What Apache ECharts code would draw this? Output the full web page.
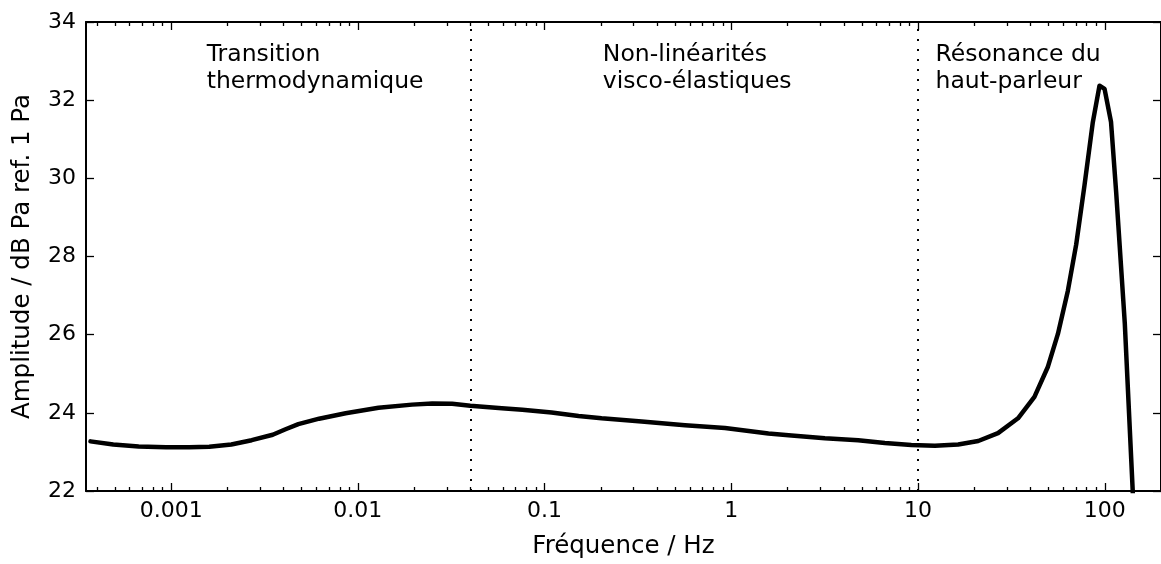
<!DOCTYPE html>
<html>
<head>
<meta charset="utf-8">
<script src="https://cdn.jsdelivr.net/npm/echarts@6/dist/echarts.min.js"></script>
<style>
html,body{margin:0;padding:0;background:#fff;}
#c{width:1161px;height:564px;}
</style>
</head>
<body>
<div id="c"></div>
<script>
// ---- data ----
const freq = [0.00037, 0.00049, 0.00067, 0.00094, 0.00125, 0.0016, 0.0021, 0.0027, 0.0035, 0.0041,
  0.0048, 0.0062, 0.0086, 0.0129, 0.0195, 0.025, 0.032, 0.040, 0.059, 0.076,
  0.109, 0.152, 0.202, 0.331, 0.565, 0.925, 1.18, 1.58, 2.1, 3.17,
  4.78, 6.64, 9.2, 12.3, 16.4, 21, 26.8, 34.3, 42, 49.6,
  56.1, 63.4, 70.3, 77.9, 86.3, 93.7, 99.7, 108, 115, 128, 141, 145];
const amplitude = [23.27, 23.19, 23.14, 23.12, 23.12, 23.13, 23.19, 23.30, 23.44, 23.58,
  23.71, 23.85, 23.99, 24.13, 24.21, 24.24, 24.23, 24.18, 24.12, 24.08,
  24.01, 23.92, 23.86, 23.78, 23.68, 23.61, 23.55, 23.47, 23.42, 23.35,
  23.30, 23.23, 23.18, 23.16, 23.19, 23.28, 23.48, 23.86, 24.41, 25.18,
  26.02, 27.12, 28.31, 29.83, 31.44, 32.37, 32.29, 31.44, 29.66, 26.28, 22.04, 20.5];
const regionBounds = [0.04, 10];
const regionLabels = ['Transition\nthermodynamique', 'Non-linéarités\nvisco-élastiques', 'Résonance du\nhaut-parleur'];
const regionLabelX = [0.00155, 0.205, 12.4];
const regionLabelY = 33.5;
const xMajorTicks = [0.001, 0.01, 0.1, 1, 10, 100];
const xTickLabels = ['0.001', '0.01', '0.1', '1', '10', '100'];
const yTicks = [22, 24, 26, 28, 30, 32, 34];
const X_MIN = 0.00035, X_MAX = 200;
const xMinorTicks = [];
for (let d = -4; d <= 2; d++) {
  for (let k = 2; k <= 9; k++) xMinorTicks.push(Number((k * Math.pow(10, d)).toPrecision(6)));
}

const FONT = 'DejaVu Sans';
const FS_TICK = 22, FS_NAME = 24.5, FS_NOTE = 23.5;
const chart = echarts.init(document.getElementById('c'), null, {renderer: 'canvas'});

function xAx(pos, ticks, len, showLine, labels) {
  return {
    type: 'log', logBase: 10, min: X_MIN, max: X_MAX, position: pos, gridIndex: 0,
    axisLine: {show: showLine, onZero: false, lineStyle: {color: '#000', width: 2}},
    axisTick: {show: true, inside: true, length: len, customValues: ticks, lineStyle: {color: '#000', width: 1.3}},
    axisLabel: labels ? {
      show: true, customValues: xMajorTicks, color: '#000', fontFamily: FONT, fontSize: FS_TICK, margin: 9,
      formatter: function (v) { const i = xMajorTicks.indexOf(v); return i >= 0 ? xTickLabels[i] : String(v); }
    } : {show: false},
    splitLine: {show: false}, minorTick: {show: false}, minorSplitLine: {show: false}
  };
}
function yAx(pos, labels) {
  return {
    type: 'value', min: yTicks[0], max: yTicks[yTicks.length - 1], interval: 2, position: pos,
    axisLine: {show: true, onZero: false, lineStyle: {color: '#000', width: 2}},
    axisTick: {show: true, inside: true, length: 8, lineStyle: {color: '#000', width: 1.3}},
    axisLabel: labels ? {show: true, color: '#000', fontFamily: FONT, fontSize: FS_TICK, margin: 10} : {show: false},
    splitLine: {show: false},
    name: labels ? 'Amplitude / dB Pa ref. 1 Pa' : '',
    nameLocation: 'middle', nameGap: 51,
    nameTextStyle: {color: '#000', fontFamily: FONT, fontSize: FS_NAME}
  };
}

const xb = xAx('bottom', xMajorTicks, 8, true, true);
xb.name = 'Fréquence / Hz';
xb.nameLocation = 'middle';
xb.nameGap = 43;
xb.nameTextStyle = {color: '#000', fontFamily: FONT, fontSize: FS_NAME};

chart.setOption({
  animation: false,
  backgroundColor: '#fff',
  grid: {left: 86, top: 22, width: 1077, height: 473, containLabel: false},
  xAxis: [xb, xAx('bottom', xMinorTicks, 4, false, false), xAx('top', xMajorTicks, 8, true, false), xAx('top', xMinorTicks, 4, false, false)],
  yAxis: [yAx('left', true), yAx('right', false)],
  series: [
    {
      type: 'line', xAxisIndex: 0, yAxisIndex: 0,
      data: freq.map((f, i) => [f, amplitude[i]]),
      showSymbol: false, symbol: 'none', clip: true,
      lineStyle: {color: '#000', width: 4.5, join: 'round', cap: 'round'},
      markLine: {
        silent: true, symbol: 'none', label: {show: false},
        lineStyle: {color: '#000', width: 2, type: [2, 8]},
        data: regionBounds.map(v => ({xAxis: v}))
      },
      z: 3
    },
    {
      type: 'scatter', xAxisIndex: 0, yAxisIndex: 0, symbolSize: 0, silent: true,
      itemStyle: {opacity: 1, color: '#000'},
      data: regionLabels.map((t, i) => ({value: [regionLabelX[i], regionLabelY], name: t})),
      label: {
        show: true, position: [0, 0], align: 'left', verticalAlign: 'top', opacity: 1,
        formatter: p => p.name, color: '#000', fontFamily: FONT, fontSize: FS_NOTE, lineHeight: 27
      },
      z: 4
    }
  ]
});
</script>
</body>
</html>
